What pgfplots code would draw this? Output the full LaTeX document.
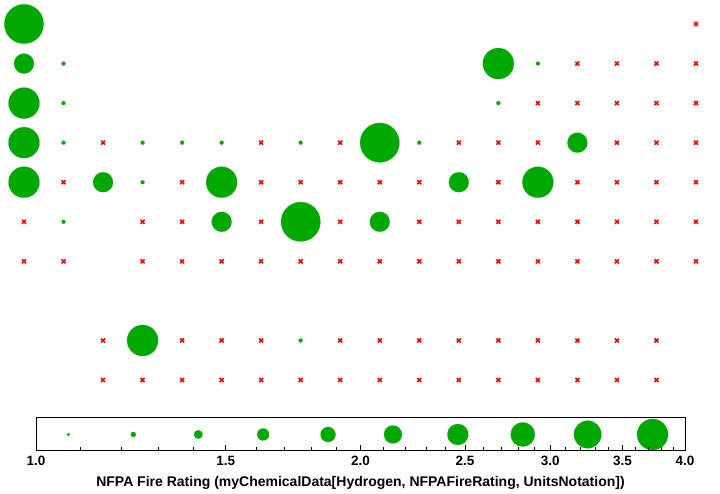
\documentclass[border=0pt]{standalone}
\usepackage{pgfplots}
\pgfplotsset{compat=1.18}
\usepackage{fontspec}
\setmainfont{Liberation Sans}
\definecolor{bubblegreen}{RGB}{0,168,0}
\pgfplotsset{bubble/.style={only marks, mark=*, color=bubblegreen, mark options={solid, fill=bubblegreen, draw=bubblegreen, line width=0.1pt}}}
\begin{document}
\begin{tikzpicture}[x=1pt,y=1pt]
% main periodic-table grid (column, row)
\begin{axis}[
  at={(0pt,0pt)}, anchor=south west,
  scale only axis, width=720pt, height=494pt,
  xmin=0.3929, xmax=18.607, ymin=0.3933, ymax=12.881,
  y dir=reverse, hide axis, clip=false]
\path (rel axis cs:0,0) rectangle (rel axis cs:1,1);
% rating 0 / not flammable: red crosses
\addplot[only marks, mark=x, mark size=2.8pt, red, line width=1.6pt] coordinates {
 (18,1)
 (15,2) (16,2) (17,2) (18,2)
 (14,3) (15,3) (16,3) (17,3) (18,3)
 (3,4) (7,4) (9,4) (12,4) (13,4) (14,4) (16,4) (17,4) (18,4)
 (2,5) (5,5) (7,5) (8,5) (9,5) (10,5) (11,5) (13,5) (15,5) (16,5) (17,5) (18,5)
 (1,6) (4,6) (5,6) (7,6) (9,6) (11,6) (12,6) (13,6) (14,6) (15,6) (16,6) (17,6) (18,6)
 (1,7) (2,7) (4,7) (5,7) (6,7) (7,7) (8,7) (9,7) (10,7) (11,7) (12,7) (13,7) (14,7) (15,7) (16,7) (17,7) (18,7)
 (3,9) (5,9) (6,9) (7,9) (9,9) (10,9) (11,9) (12,9) (13,9) (14,9) (15,9) (16,9) (17,9)
 (3,10) (4,10) (5,10) (6,10) (7,10) (8,10) (9,10) (10,10) (11,10) (12,10) (13,10) (14,10) (15,10) (16,10) (17,10)
};
% rating 1
\addplot[bubble, mark size=2pt] coordinates {
 (2,2) (14,2) (2,3) (13,3) (2,4) (4,4) (5,4) (6,4) (8,4) (11,4) (4,5) (2,6) (8,9)
};
% rating 2
\addplot[bubble, mark size=10pt] coordinates {
 (1,2) (15,4) (3,5) (12,5) (6,6) (10,6)
};
% rating 3
\addplot[bubble, mark size=15.5pt] coordinates {
 (13,2) (1,3) (1,4) (1,5) (6,5) (14,5) (4,9)
};
% rating 4
\addplot[bubble, mark size=19.7pt] coordinates {
 (1,1) (10,4) (8,6)
};
\end{axis}
% legend bubbles
\begin{axis}[
  at={(36pt,43pt)}, anchor=south west,
  scale only axis, width=649pt, height=33pt,
  xmin=0, xmax=10, ymin=0, ymax=1, hide axis, clip=false]
\addplot[bubble, mark size=1.5pt] coordinates {(0.5,0.5)};
\addplot[bubble, mark size=2.6pt] coordinates {(1.5,0.5)};
\addplot[bubble, mark size=4.3pt] coordinates {(2.5,0.5)};
\addplot[bubble, mark size=6pt] coordinates {(3.5,0.5)};
\addplot[bubble, mark size=7.5pt] coordinates {(4.5,0.5)};
\addplot[bubble, mark size=9pt] coordinates {(5.5,0.5)};
\addplot[bubble, mark size=10.5pt] coordinates {(6.5,0.5)};
\addplot[bubble, mark size=12.1pt] coordinates {(7.5,0.5)};
\addplot[bubble, mark size=13.8pt] coordinates {(8.5,0.5)};
\addplot[bubble, mark size=15.5pt] coordinates {(9.5,0.5)};
\end{axis}
% legend frame with logarithmic scale
\begin{axis}[
  at={(36pt,43pt)}, anchor=south west,
  scale only axis, width=649pt, height=33pt,
  xmode=log, xmin=1, xmax=4, ymin=0, ymax=1,
  ytick=\empty,
  xtick={1,1.5,2,2.5,3,3.5,4},
  xticklabels={1.0,1.5,2.0,2.5,3.0,3.5,4.0},
  minor xtick={1.1,1.2,1.3,1.4,1.6,1.7,1.8,1.9,2.1,2.2,2.3,2.4,2.6,2.7,2.8,2.9,3.1,3.2,3.3,3.4,3.6,3.7,3.8,3.9},
  major tick length=6pt, minor tick length=3.5pt,
  xtick pos=bottom,
  axis line style={line width=1pt},
  every tick/.style={black, line width=0.8pt},
  tick label style={font=\bfseries\fontsize{13.5pt}{14pt}\selectfont},
  xticklabel style={yshift=-2pt},
  xlabel={NFPA Fire Rating (myChemicalData[Hydrogen, NFPAFireRating, UnitsNotation])},
  xlabel style={font=\bfseries\fontsize{14pt}{15pt}\selectfont, yshift=-3pt}]
\end{axis}
\end{tikzpicture}
\end{document}
